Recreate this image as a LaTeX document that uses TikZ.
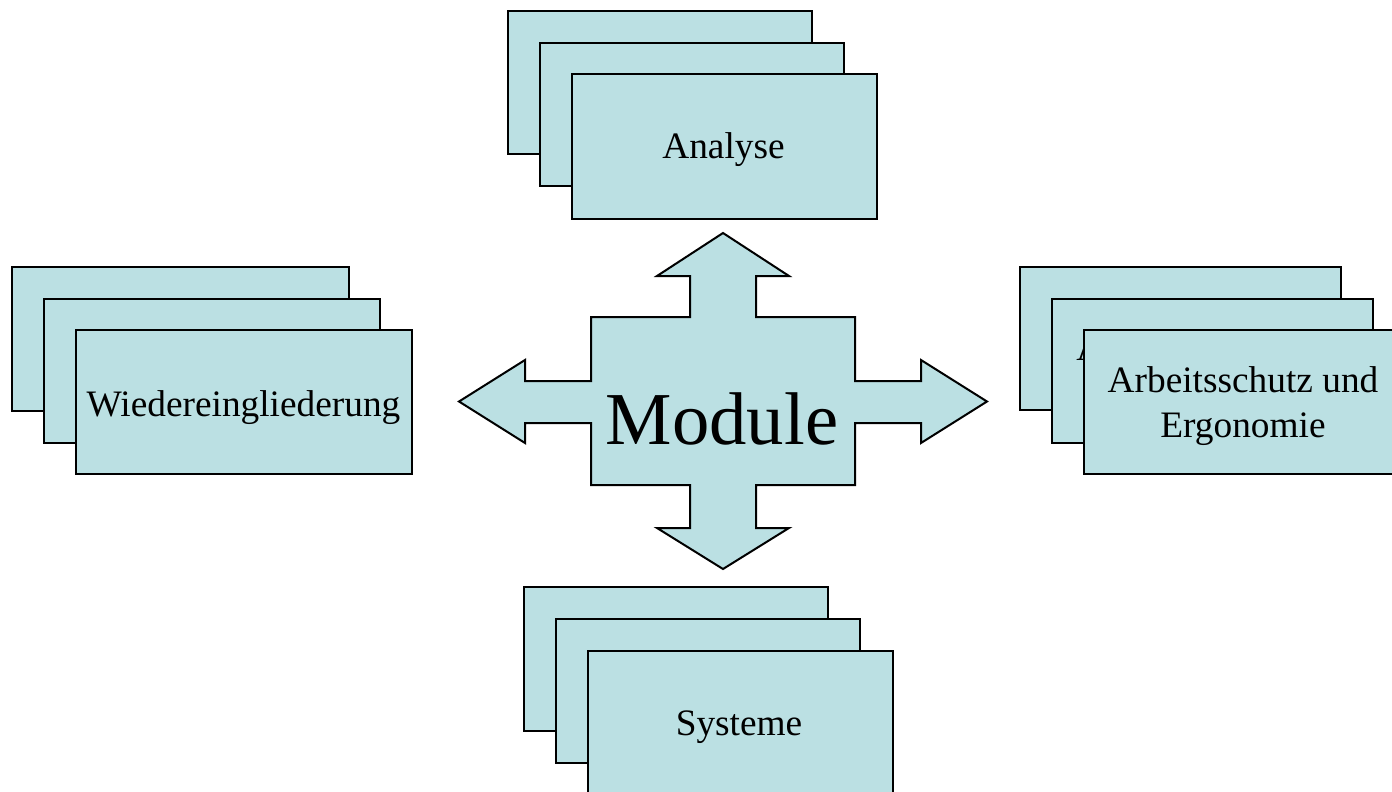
\documentclass[tikz,border=0pt]{standalone}
\usepackage{fontspec}
\setmainfont{Liberation Serif}
\definecolor{cardfill}{HTML}{BBE0E3}
\tikzset{
  x=0.75pt, y=-0.75pt,
  card/.style={draw=black, fill=cardfill, line width=1.5pt, rectangle, inner sep=0pt, anchor=north west},
  lbl/.style={font=\fontsize{28}{33.6}\selectfont, anchor=base, inner sep=0pt},
  bigl/.style={font=\fontsize{56}{60}\selectfont, anchor=base, inner sep=0pt},
  crossshape/.style={draw=black, fill=cardfill, line width=1.5pt, line join=miter}
}
\begin{document}
\begin{tikzpicture}
\useasboundingbox (0,0) rectangle (1392,792);

% Analyse stack (top)
\node[card, minimum width=304*0.75pt, minimum height=143*0.75pt] (a1) at (507,10) {};
\node[card, minimum width=304*0.75pt, minimum height=143*0.75pt] (a2) at (539,42) {};
\node[card, minimum width=305*0.75pt, minimum height=145*0.75pt] (a3) at (571,73) {};
\node[lbl] (ta) at (723.5,158) {Analyse};

% Wiedereingliederung stack (left)
\node[card, minimum width=337*0.75pt, minimum height=144*0.75pt] (w1) at (11,266) {};
\node[card, minimum width=336*0.75pt, minimum height=144*0.75pt] (w2) at (43,298) {};
\node[card, minimum width=336*0.75pt, minimum height=144*0.75pt] (w3) at (75,329) {};
\node[lbl] (tw) at (243.5,416) {Wiedereingliederung};

% Arbeitsschutz stack (right)
\node[card, minimum width=321*0.75pt, minimum height=143*0.75pt] (r1) at (1019,266) {};
\node[card, minimum width=321*0.75pt, minimum height=144*0.75pt] (r2) at (1051,298) {};
\begin{scope}
  \clip (1060,330) rectangle (1083,366);
  \node[lbl, anchor=base west] (tr2) at (1076,360) {A};
\end{scope}
\node[card, minimum width=321*0.75pt, minimum height=144*0.75pt] (r3) at (1083,329) {};
\node[lbl] (tr) at (1243,392) {Arbeitsschutz und};
\node[lbl] (tr3) at (1243,437) {Ergonomie};

% Systeme stack (bottom)
\node[card, minimum width=304*0.75pt, minimum height=144*0.75pt] (s1) at (523,586) {};
\node[card, minimum width=304*0.75pt, minimum height=144*0.75pt] (s2) at (555,618) {};
\node[card, minimum width=305*0.75pt, minimum height=146*0.75pt] (s3) at (587,650) {};
\node[lbl] (ts) at (739,735) {Systeme};

% central cross
\draw[crossshape] (723,233) -- (789,276) -- (756,276) -- (756,317) -- (855,317) -- (855,381)
  -- (921,381) -- (921,360) -- (987,401.5) -- (921,443) -- (921,423) -- (855,423)
  -- (855,485) -- (756,485) -- (756,528) -- (789,528) -- (723,569) -- (657,528)
  -- (690,528) -- (690,485) -- (591,485) -- (591,423) -- (525,423) -- (525,443)
  -- (459,401.5) -- (525,360) -- (525,381) -- (591,381) -- (591,317) -- (690,317)
  -- (690,276) -- (657,276) -- cycle;
\node[bigl] (mod) at (722,444) {Module};
\end{tikzpicture}
\end{document}
